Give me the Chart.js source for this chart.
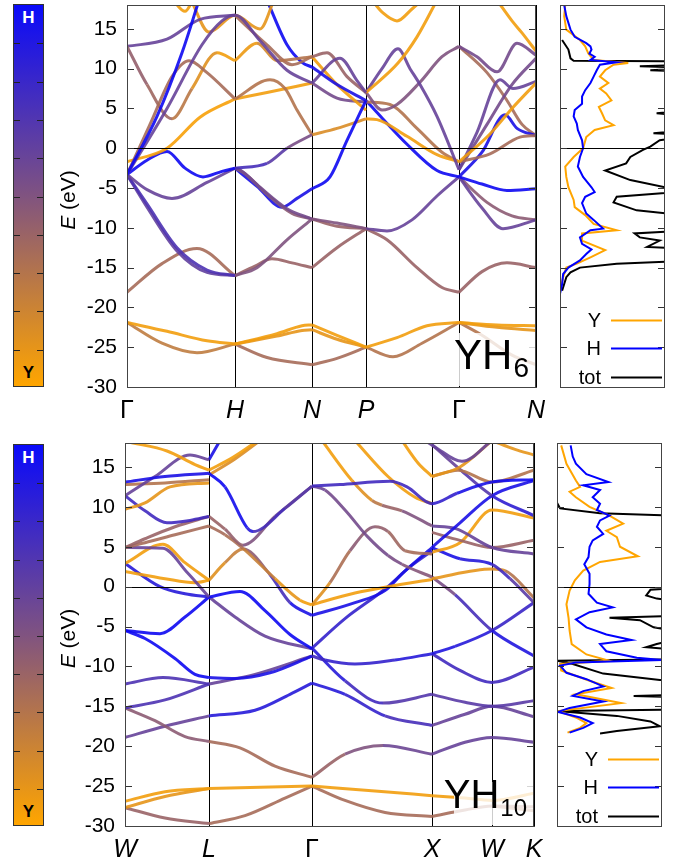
<!DOCTYPE html>
<html>
<head>
<meta charset="utf-8">
<script src="https://cdn.jsdelivr.net/npm/chart.js@4.4.1/dist/chart.umd.min.js"></script>
<style>
  body { margin: 0; background: #fff; width: 679px; height: 863px; position: relative; overflow: hidden; font-family: "Liberation Sans", Arial, sans-serif; }
  canvas { position: absolute; }
  .cbar { position: absolute; left: 13px; width: 31px; border: 1px solid #333; box-sizing: border-box;
          background: linear-gradient(to bottom, rgb(10,10,250), rgb(128,83,128), rgb(255,165,0)); }
  .cbar span { position: absolute; left: 0; width: 100%; text-align: center; font-weight: bold; font-size: 17px; }
  .tk { position: absolute; height: 1px; width: 6px; background: #222; }
</style>
</head>
<body>
<div class="cbar" id="cb1" style="top:4px;height:383px"><span style="top:3px;color:#fff">H</span><span style="bottom:3px;color:#000">Y</span></div>
<div class="cbar" id="cb2" style="top:444px;height:382px"><span style="top:3px;color:#fff">H</span><span style="bottom:3px;color:#000">Y</span></div>
<canvas id="bandTop" width="545" height="430" style="left:0;top:0"></canvas>
<canvas id="dosTop" width="129" height="430" style="left:550px;top:0"></canvas>
<canvas id="bandBot" width="543" height="423" style="left:0;top:440px"></canvas>
<canvas id="dosBot" width="129" height="423" style="left:550px;top:440px"></canvas>
<script>
// k-path (path length) and labels
var nodesTop = [0, 108, 185, 239, 332, 409];
var labelsTop = ["Γ", "H", "N", "P", "Γ", "N"];
var nodesBot = [0, 84, 187, 307, 367, 409];
var labelsBot = ["W", "L", "Γ", "X", "W", "K"];
var yTicks = [-30, -25, -20, -15, -10, -5, 0, 5, 10, 15];

// bands: h = H character (0 = Y, 1 = H), points [k, E, h?]
var bandsTop = [
  {h: 0.95, p: [[0,-3.3],[30,4],[55,12],[72,18.6]]},
  {h: 0.6, p: [[0,-3.3],[40,5],[75,13],[95,16],[108,16.7],[133,13.5],[160,9.8],[185,8.2]]},
  {h: 0.35, p: [[0,-3.3],[23,3],[45,9],[62,11],[80,9.5],[108,6.2]]},
  {h: 0.4, p: [[0,12.8,0.45],[20,8,0.4],[45,3.7,0.35],[65,7.5,0.2],[90,12,0.05],[108,11,0.05]]},
  {h: 0.03, p: [[0,-1.7],[40,0],[73,3.9],[108,6.2]]},
  {h: 0.6, p: [[0,12.8],[40,13.7],[73,16.2],[108,16.7]]},
  {h: 0.05, p: [[46,18.6],[58,17.2],[66,18.6]]},
  {h: 0.1, p: [[64,18.6],[82,14.6],[108,16.7],[133,15],[147,18.6]]},
  {h: 0.95, p: [[0,-3.3],[20,-1.5],[40,-0.4],[58,-2.5],[76,-3.6],[95,-2.9],[108,-2.5]]},
  {h: 0.6, p: [[0,-3.3],[20,-5.2],[45,-6.3],[80,-4.3],[108,-2.5]]},
  {h: 0.7, p: [[0,-3.3],[20,-7],[50,-12.5],[80,-15.3],[108,-16]]},
  {h: 0.62, p: [[0,-3.3],[20,-7.4],[50,-12.9],[80,-15.6],[108,-16]]},
  {h: 0.35, p: [[0,-18.1],[35,-14.5],[70,-12.6],[108,-16]]},
  {h: 0.05, p: [[0,-21.9],[40,-23],[80,-24.2],[108,-24.6]]},
  {h: 0.25, p: [[0,-21.9],[35,-24.5],[70,-25.7],[108,-24.6]]},
  {h: 0.5, p: [[108,-16],[130,-15],[160,-11.5],[185,-8.9]]},
  {h: 0.4, p: [[108,-16],[128,-14.8],[145,-13.9],[165,-14.4],[185,-15]]},
  {h: 0.05, p: [[108,-24.6],[150,-23.3],[175,-22.3],[185,-22.2]]},
  {h: 0.1, p: [[108,-24.6],[150,-23.6],[175,-22.9],[185,-22.8]]},
  {h: 0.35, p: [[108,-24.6],[140,-26.3],[185,-27.2]]},
  {h: 0.7, p: [[108,-2.5,0.75],[140,-1.9,0.7],[160,0,0.6],[185,1.7,0.45]]},
  {h: 0.55, p: [[108,-2.5],[113,-2.7],[133,-4.9],[160,-7.6],[185,-8.9]]},
  {h: 0.45, p: [[108,-2.5],[118,-3.2],[140,-5.8],[165,-8.2],[185,-8.9]]},
  {h: 0.9, p: [[108,-2.5],[130,-4.8],[155,-7.4],[170,-6.3],[185,-5.1]]},
  {h: 0.3, p: [[108,6.2],[143,8.6],[158,7.5],[170,4.8],[185,1.7]]},
  {h: 0.05, p: [[108,6.2],[140,7],[185,8.2]]},
  {h: 0.1, p: [[108,11,0.05],[130,13.2,0.1],[150,11,0.25],[185,11.5,0.35]]},
  {h: 0.35, p: [[108,16.7],[140,13],[165,10.5],[185,11.5]]},
  {h: 0.95, p: [[140,18.6],[160,13],[175,10.8],[185,10.2]]},
  {h: 0.9, p: [[185,10.2],[210,8],[239,6]]},
  {h: 0.95, p: [[185,-5.1],[203,-3.6],[220,1],[239,6]]},
  {h: 0.15, p: [[185,1.7],[210,2.5],[239,3.7]]},
  {h: 0.6, p: [[185,8.2],[213,11.3],[230,8.5],[239,7]]},
  {h: 0.4, p: [[185,11.5],[200,12],[220,9],[239,7]]},
  {h: 0.05, p: [[185,11.5],[210,8],[239,4.8]]},
  {h: 0.55, p: [[185,8.2],[210,6.3],[239,5.8]]},
  {h: 0.5, p: [[185,-8.9],[210,-9.4],[239,-10.1]]},
  {h: 0.4, p: [[185,-8.9],[210,-9.8],[239,-10.1]]},
  {h: 0.4, p: [[185,-15],[210,-12.5],[239,-10.1]]},
  {h: 0.05, p: [[185,-22.2],[210,-23.5],[239,-25]]},
  {h: 0.1, p: [[185,-22.8],[210,-24],[239,-25]]},
  {h: 0.35, p: [[185,-27.2],[210,-26.4],[239,-25]]},
  {h: 0.05, p: [[239,7],[271,10.7],[290,14],[310,18.6]]},
  {h: 0.6, p: [[239,7],[255,10],[271,12.5],[283,10],[293,8],[310,4],[332,-2.7]]},
  {h: 0.5, p: [[239,7],[255,4.8],[270,5.5],[293,8.3],[315,11.5],[332,12.8]]},
  {h: 0.05, p: [[239,3.7],[250,3.6],[280,1.5],[310,-0.8],[332,-1.7]]},
  {h: 0.3, p: [[239,5.8],[263,5.5],[290,2.5],[315,-0.5],[332,-1.7]]},
  {h: 0.95, p: [[239,6],[255,3.8],[280,0.5],[310,-2.8],[332,-3.6]]},
  {h: 0.05, p: [[245,18.6],[256,17],[270,16],[285,17.5],[295,18.6]]},
  {h: 0.6, p: [[239,-10.1],[260,-10.4],[285,-9],[310,-6],[332,-3.6]]},
  {h: 0.4, p: [[239,-10.1],[260,-11.5],[290,-15],[315,-17.5],[332,-18.1]]},
  {h: 0.05, p: [[239,-25],[270,-23.8],[300,-22.3],[332,-21.9]]},
  {h: 0.3, p: [[239,-25],[266,-26.2],[295,-24.5],[332,-21.9]]},
  {h: 0.05, p: [[332,-1.7],[363,1.8],[385,5],[409,8.2]]},
  {h: 0.35, p: [[332,-1.7],[363,-0.7],[393,1.4],[409,1.6]]},
  {h: 0.6, p: [[332,-2.7],[350,2],[373,8.6],[386,7.5],[409,8.4]]},
  {h: 0.55, p: [[332,-2.7],[360,3],[385,8],[409,11.3]]},
  {h: 0.9, p: [[332,-3.6],[355,-0.5],[378,4.2],[390,2.5],[409,1.6]]},
  {h: 0.55, p: [[332,12.8],[350,11.5],[370,9.6],[390,13.2],[409,11.7]]},
  {h: 0.35, p: [[332,12.8],[360,9.5],[380,6],[395,3],[409,1.6]]},
  {h: 0.05, p: [[370,18.6],[385,16],[395,14.5],[409,12.2]]},
  {h: 0.95, p: [[332,-3.6],[355,-4.5],[380,-5.3],[409,-5.1]]},
  {h: 0.6, p: [[332,-3.6],[355,-7.5],[376,-10.1],[409,-9]]},
  {h: 0.45, p: [[332,-3.6],[360,-6.8],[385,-8.5],[409,-9]]},
  {h: 0.4, p: [[332,-18.1],[355,-15.5],[380,-14.4],[409,-15]]},
  {h: 0.05, p: [[332,-21.9],[370,-22.2],[409,-22.3]]},
  {h: 0.1, p: [[332,-21.9],[370,-22.5],[409,-22.9]]},
  {h: 0.3, p: [[332,-21.9],[355,-23.5],[385,-26],[409,-27.2]]}
];

var bandsBot = [
  {h: 0.05, p: [[0,18.2],[8,18],[42,17],[70,15.3],[84,14.6]]},
  {h: 0.9, p: [[0,13.1],[40,13.8],[84,14.2]]},
  {h: 0.6, p: [[0,11.4],[30,13.8],[65,16.5],[84,15.9]]},
  {h: 0.1, p: [[0,9.7],[20,10.5],[45,12.5],[84,13]]},
  {h: 0.3, p: [[0,12.8],[40,13],[84,13.4]]},
  {h: 0.75, p: [[0,11.4],[20,9.5],[42,8],[65,8.3],[84,8.8]]},
  {h: 0.4, p: [[0,4.9],[20,6],[50,7.5],[84,8.8]]},
  {h: 0.35, p: [[0,4.9],[20,5.5],[50,6.5],[84,7.6]]},
  {h: 0.6, p: [[0,4.9],[38,4.8],[62,1.8],[84,-1.3]]},
  {h: 0.05, p: [[0,2.9],[38,5.3],[60,3],[84,0.8]]},
  {h: 0.05, p: [[0,1.9],[40,1],[70,0.5],[84,0.8]]},
  {h: 0.85, p: [[0,2.9],[35,0],[60,-0.9],[84,-1.3]]},
  {h: 0.95, p: [[0,-5.5],[35,-5.9],[60,-3.8],[84,-1.3]]},
  {h: 0.95, p: [[0,-5.5],[20,-6.5],[50,-9],[70,-11],[84,-11.4]]},
  {h: 0.7, p: [[0,-12.2],[38,-11.4],[84,-12.2]]},
  {h: 0.7, p: [[0,-15.2],[40,-14.2],[84,-12.2]]},
  {h: 0.45, p: [[0,-15.2],[30,-16.8],[60,-18.8],[84,-19.4]]},
  {h: 0.6, p: [[0,-18.9],[40,-17.5],[84,-16.2]]},
  {h: 0.05, p: [[0,-26.9],[40,-25.7],[84,-25.3]]},
  {h: 0.1, p: [[0,-27.7],[40,-26.3],[84,-25.3]]},
  {h: 0.4, p: [[0,-27.7],[40,-29],[84,-29.7]]},
  {h: 0.9, p: [[84,14.2,0.95],[100,12.5,0.95],[122,7.4,0.9],[128,6.9,0.8],[160,9.8,0.65],[187,12.6,0.65]]},
  {h: 0.4, p: [[84,8.8,0.4],[100,7.2,0.4],[118,5.2,0.45],[150,8.8,0.55],[187,12.6,0.6]]},
  {h: 0.3, p: [[84,7.6,0.35],[100,6.5,0.35],[118,4.8,0.3],[150,1,0.15],[175,-1.7,0.05],[187,-2.3,0.05]]},
  {h: 0.5, p: [[84,0.8,0.1],[100,3,0.15],[118,4.7,0.3],[145,1.5,0.6],[165,-2,0.85],[187,-3.6,0.95]]},
  {h: 0.95, p: [[84,-1.3],[115,-0.6],[140,-3],[165,-6],[187,-7.8]]},
  {h: 0.6, p: [[84,-1.3],[110,-3.8],[140,-6.2],[187,-7.8]]},
  {h: 0.05, p: [[84,14.6],[108,16.2],[133,18.3]]},
  {h: 0.15, p: [[84,14],[110,16],[135,18.3]]},
  {h: 0.9, p: [[84,15.9],[95,18.3]]},
  {h: 0.9, p: [[84,-11.4],[110,-11.5],[145,-10.8],[187,-8.7]]},
  {h: 0.6, p: [[84,-12.2],[130,-11],[187,-8.7]]},
  {h: 0.85, p: [[84,-16.2],[130,-15.5],[165,-13.5],[187,-12.1]]},
  {h: 0.35, p: [[84,-19.4],[115,-20.2],[150,-22.5],[187,-23.9]]},
  {h: 0.05, p: [[84,-25.3],[187,-25]]},
  {h: 0.35, p: [[84,-29.7],[120,-28.7],[160,-26.5],[187,-25]]},
  {h: 0.75, p: [[187,12.6],[215,12.8],[265,13.2],[282,12.5],[307,10.4],[332,11.7,0.85],[367,13.1,0.95],[409,13.4,0.95]]},
  {h: 0.55, p: [[187,12.6,0.6],[200,12.1],[220,9.6],[243,6.2],[263,3.9],[277,2.8,0.5],[307,1.2,0.45]]},
  {h: 0.05, p: [[197,18.3,0.05],[227,13.3,0.05],[247,10.8,0.2],[257,10.2,0.35],[277,9.5,0.45],[307,7.6,0.55]]},
  {h: 0.05, p: [[230,18.3],[263,13.8],[290,11.2],[307,10.4]]},
  {h: 0.05, p: [[277,18.3],[293,15.5],[307,13.8]]},
  {h: 0.2, p: [[187,-2.3,0.05],[205,0.5,0.2],[225,4.5,0.45],[250,7.5,0.45],[263,6.9,0.4],[280,4.5,0.35],[307,4.1,0.35]]},
  {h: 0.05, p: [[187,-2.3],[200,-1.8],[230,-0.8],[263,0],[307,0.9]]},
  {h: 0.9, p: [[187,-3.6],[230,-2],[260,-0.5],[277,1.6],[307,4.9]]},
  {h: 0.8, p: [[187,-7.7],[220,-4],[260,-0.3],[285,2.5],[307,4.5]]},
  {h: 0.8, p: [[187,-8.7,0.7],[200,-9.2],[230,-9.7],[270,-9.2],[307,-8.4,0.9]]},
  {h: 0.8, p: [[187,-7.7,0.9],[220,-11.8],[258,-14.6,0.7],[307,-13.5,0.65]]},
  {h: 0.8, p: [[187,-12.1,0.9],[220,-13.5],[260,-16.2],[307,-17.4,0.65]]},
  {h: 0.45, p: [[187,-23.9,0.35],[220,-21,0.45],[258,-19.9,0.55],[307,-21,0.6]]},
  {h: 0.05, p: [[187,-25],[250,-25.6],[307,-26.2]]},
  {h: 0.35, p: [[187,-25],[220,-26.8],[260,-28.3],[307,-28.8]]},
  {h: 0.6, p: [[300,18.3],[310,17.5],[337,15.7],[367,18.3]]},
  {h: 0.1, p: [[307,13.8],[335,15],[367,18.3]]},
  {h: 0.1, p: [[367,18.3],[390,17.2],[409,16.5]]},
  {h: 0.3, p: [[307,13.8],[333,14.6],[367,13.1],[409,14.6]]},
  {h: 0.7, p: [[307,17.8,0.6],[333,14.9,0.6],[367,11.4,0.75],[409,8.9,0.9]]},
  {h: 0.9, p: [[307,4.9],[335,8],[367,11.4],[409,13.3]]},
  {h: 0.6, p: [[307,7.6],[330,7.3],[367,4.9],[409,4.1]]},
  {h: 0.4, p: [[307,6.8],[335,5.8],[367,4.9],[409,5.8]]},
  {h: 0.05, p: [[307,4.3],[335,5.5],[367,9.6],[409,8.6]]},
  {h: 0.8, p: [[307,4.9,0.9],[335,3.5,0.9],[367,2.8,0.8],[385,1,0.7],[409,-2,0.6]]},
  {h: 0.2, p: [[307,1.0,0.1],[367,2.2,0.1],[380,2,0.2],[409,-1.4,0.4]]},
  {h: 0.7, p: [[307,1.2,0.45],[330,-1,0.6],[367,-5.5,0.85],[409,-8.7,0.9]]},
  {h: 0.85, p: [[307,-8.4,0.9],[330,-7.5],[367,-5.5],[409,-2,0.7]]},
  {h: 0.75, p: [[307,-8.4],[335,-10.5],[367,-12],[409,-10.1]]},
  {h: 0.65, p: [[307,-13.5],[340,-14.5],[367,-15],[409,-14.3]]},
  {h: 0.6, p: [[307,-17.4],[340,-16],[367,-15],[409,-16.3]]},
  {h: 0.6, p: [[307,-21],[340,-19.5],[367,-18.9],[409,-19.5]]},
  {h: 0.05, p: [[307,-26.2],[340,-26.5],[367,-26.8],[409,-25.9]]},
  {h: 0.35, p: [[307,-28.8],[340,-28],[367,-27.5],[409,-27.6]]},
  {h: 0.3, p: [[367,-27.5],[409,-28.1]]}
];

// DOS, pairs [E, value]
var dosTopY = [[18,0.05],[16.6,0.04],[14.9,0.06],[13.6,0.19],[12.8,0.24],[11.9,0.27],[11.1,0.32],[10.7,0.65],[10.5,0.51],[9.8,0.43],[9,0.38],[8.2,0.46],[7.5,0.38],[6.9,0.44],[6,0.49],[5.2,0.37],[4.4,0.4],[3.5,0.43],[2.9,0.51],[2.3,0.33],[1.4,0.25],[0,0.22],[-1.1,0.13],[-2.3,0.05],[-3.6,0.06],[-4.9,0.08],[-6.5,0.13],[-7.4,0.14],[-8.4,0.24],[-9.5,0.32],[-10.3,0.54],[-10.7,0.21],[-11.6,0.21],[-12.8,0.43],[-13.7,0.29],[-14.5,0.16],[-15,0.06],[-16.2,0.03],[-17.9,0]];
var dosTopH = [[18,0.04],[16.6,0.06],[14.9,0.1],[14,0.14],[13.2,0.25],[12.8,0.29],[12.4,0.3],[11.9,0.28],[11.5,0.33],[11.1,0.29],[10.8,0.54],[10.5,0.38],[9.8,0.35],[9,0.32],[8.2,0.29],[7.3,0.24],[6.5,0.21],[5.6,0.21],[4.8,0.14],[4,0.13],[3.1,0.16],[2.3,0.17],[1,0.21],[0,0.22],[-1.1,0.19],[-2.3,0.17],[-3.6,0.22],[-4.9,0.3],[-5.5,0.33],[-6.1,0.24],[-6.9,0.21],[-8.2,0.25],[-9,0.32],[-10.1,0.41],[-10.3,0.29],[-11.2,0.19],[-12,0.21],[-12.7,0.3],[-13.3,0.25],[-14.1,0.19],[-15,0.08],[-15.8,0.03],[-17.1,0.02],[-18.3,0]];
var dosTopTot = [[13.6,0.02],[12.4,0.08],[11.3,0.1],[11,0.13],[10.9,1.3],[10.5,1.3],[10.3,0.76],[10.1,1.3],[9.8,0.86],[9.6,1.3],[4.8,1.3],[4.4,0.92],[4,1.3],[2.3,1.3],[1.9,0.89],[1.6,1.3],[1,0.95],[0.2,0.86],[-0.2,0.79],[-1.1,0.67],[-1.9,0.63],[-2.8,0.43],[-4,0.67],[-4.9,1],[-5.3,1.3],[-6.1,0.54],[-6.8,0.51],[-7.8,0.73],[-8.6,1.3],[-10.3,1.3],[-10.7,0.71],[-11.2,0.76],[-11.6,0.95],[-12.4,0.83],[-12.7,1.3],[-14.1,1.3],[-14.5,0.54],[-15,0.19],[-15.6,0.1],[-16.2,0.06],[-17.9,0.02]];

var dosBotY = [[17.7,0.04],[15.4,0.09],[13.3,0.18],[12.5,0.22],[11.9,0.12],[11.2,0.18],[10,0.31],[8.9,0.5],[7.9,0.63],[7,0.47],[6.2,0.57],[5,0.6],[3.8,0.77],[3.1,0.41],[2,0.25],[0.8,0.17],[-0.5,0.12],[-2.2,0.09],[-3.9,0.11],[-5.5,0.12],[-7.2,0.14],[-8.5,0.28],[-9.3,0.5],[-9.7,0.03],[-10.5,0.04],[-11.8,0.31],[-12.7,0.52],[-13.5,0.18],[-14.6,0.61],[-15.6,0.01],[-16.4,0.18],[-17.1,0.28],[-17.7,0.22],[-18.3,0.1]];
var dosBotH = [[17.7,0.13],[16.3,0.15],[15.4,0.18],[14.1,0.28],[13.1,0.49],[12.7,0.25],[12.1,0.41],[11.2,0.34],[10.4,0.41],[9.6,0.38],[8.9,0.5],[8.3,0.41],[7.5,0.38],[6.6,0.44],[5.8,0.34],[5,0.31],[3.7,0.3],[2.8,0.26],[1.6,0.31],[0.3,0.31],[-0.9,0.3],[-2,0.38],[-2.6,0.53],[-3.2,0.31],[-4.1,0.18],[-5.1,0.28],[-6,0.47],[-6.7,0.71],[-7.2,0.41],[-8.1,0.47],[-8.9,0.76],[-9.2,1],[-9.5,0.18],[-9.9,0.03],[-10.8,0.09],[-11.6,0.28],[-12.5,0.44],[-13.1,0.25],[-13.7,0.15],[-14.4,0.44],[-15.2,0.12],[-15.7,0.01],[-16.4,0.22],[-17.1,0.34],[-17.7,0.25],[-18.3,0.12]];
var dosBotTot = [[17.7,0],[10.5,0],[9.8,0.03],[9.2,0.41],[8.8,1.3],[0,1.3],[-0.4,0.89],[-1.1,0.85],[-1.5,0.95],[-2,1.3],[-3.6,1.3],[-3.9,0.5],[-4.2,0.79],[-5.1,0.92],[-6,1.3],[-7.2,0.95],[-7.6,0.85],[-8.1,1.3],[-9.1,1.3],[-9.3,0],[-9.7,0.15],[-10.9,0.44],[-11.7,0.98],[-11.9,1.3],[-13.5,1.3],[-13.7,0.73],[-13.9,1.3],[-15.4,1.3],[-15.6,0],[-16.2,0.57],[-16.9,0.89],[-17.5,0.98],[-18.1,0.57],[-18.4,0.41]];

var FONT = "'Liberation Sans', Arial, sans-serif";

function mix(h) {
  var r = Math.round(255 * (1 - h)), g = Math.round(165 * (1 - h)), b = Math.round(255 * h);
  return "rgba(" + r + "," + g + "," + b + ",0.9)";
}

// colorbar ticks
["cb1", "cb2"].forEach(function (id) {
  var el = document.getElementById(id);
  var hgt = el.offsetHeight;
  for (var i = 1; i < 10; i++) {
    var y = Math.round(i * hgt / 10);
    ["left:0", "right:0"].forEach(function (side) {
      var t = document.createElement("div");
      t.className = "tk";
      t.setAttribute("style", side + ";top:" + y + "px");
      el.appendChild(t);
    });
  }
});

function framePlugin() {
  return {
    id: "frame",
    afterDatasetsDraw: function (chart) {
      var a = chart.chartArea, ctx = chart.ctx, ys = chart.scales.y;
      ctx.save();
      ctx.strokeStyle = "#000";
      ctx.lineWidth = 1;
      var y0 = Math.round(ys.getPixelForValue(0)) + 0.5;
      ctx.beginPath(); ctx.moveTo(a.left, y0); ctx.lineTo(a.right, y0); ctx.stroke();
      ctx.strokeStyle = "#333";
      yTicks.forEach(function (v) {
        var y = Math.round(ys.getPixelForValue(v)) + 0.5;
        ctx.beginPath();
        ctx.moveTo(a.left, y); ctx.lineTo(a.left + 7, y);
        ctx.moveTo(a.right, y); ctx.lineTo(a.right - 7, y);
        ctx.stroke();
      });
      ctx.strokeStyle = "#444";
      ctx.strokeRect(Math.round(a.left) + 0.5, Math.round(a.top) + 0.5, Math.round(a.right - a.left) - 1, Math.round(a.bottom - a.top));
      ctx.restore();
    }
  };
}

function titlePlugin(formula, sub, big, small, boxTop) {
  return {
    id: "title",
    afterDraw: function (chart) {
      var a = chart.chartArea, ctx = chart.ctx;
      ctx.save();
      // y axis title
      ctx.translate(69, (a.top + a.bottom) / 2 + 4);
      ctx.rotate(-Math.PI / 2);
      ctx.fillStyle = "#000";
      ctx.textBaseline = "middle";
      ctx.font = "italic 21px " + FONT;
      var w1 = ctx.measureText("E").width;
      ctx.font = "21px " + FONT;
      var w2 = ctx.measureText(" (eV)").width;
      var x0 = -(w1 + w2) / 2;
      ctx.font = "italic 21px " + FONT;
      ctx.fillText("E", x0, 0);
      ctx.font = "21px " + FONT;
      ctx.fillText(" (eV)", x0 + w1, 0);
      ctx.restore();

      // compound label
      ctx.save();
      ctx.fillStyle = "rgba(255,255,255,0.8)";
      ctx.fillRect(a.right - 80, a.bottom - boxTop, 79, boxTop - 1);
      ctx.fillStyle = "#000";
      ctx.textBaseline = "alphabetic";
      ctx.font = big + "px " + FONT;
      var wf = ctx.measureText(formula).width;
      ctx.font = small + "px " + FONT;
      var ws = ctx.measureText(sub).width;
      var x = a.right - 8 - wf - ws;
      ctx.font = big + "px " + FONT;
      ctx.fillText(formula, x, a.bottom - 18);
      ctx.font = small + "px " + FONT;
      ctx.fillText(sub, x + wf + 1, a.bottom - 10);
      ctx.restore();
    }
  };
}

function bandChart(id, bands, nodes, labels, yAxisW, xAxisH, padTop, padRight, formula, sub, big, small, boxTop) {
  var datasets = bands.map(function (b) {
    var d = b.p.map(function (q) { return {x: q[0], y: q[1], h: q.length > 2 ? q[2] : b.h}; });
    return {
      data: d,
      showLine: true,
      pointRadius: 0,
      borderWidth: 3,
      borderColor: mix(b.h),
      cubicInterpolationMode: "monotone",
      clip: 0,
      segment: {
        borderColor: function (c) { return mix((d[c.p0DataIndex].h + d[c.p1DataIndex].h) / 2); }
      }
    };
  });
  return new Chart(document.getElementById(id), {
    type: "scatter",
    data: {datasets: datasets},
    options: {
      responsive: false,
      animation: false,
      devicePixelRatio: 1,
      layout: {padding: {top: padTop, right: padRight, left: 0, bottom: 0}},
      plugins: {legend: {display: false}, tooltip: {enabled: false}},
      scales: {
        x: {
          type: "linear",
          min: 0,
          max: nodes[nodes.length - 1],
          afterBuildTicks: function (s) { s.ticks = nodes.map(function (v) { return {value: v}; }); },
          afterFit: function (s) { s.height = xAxisH; s.paddingLeft = 0; s.paddingRight = 0; },
          grid: {color: "#000", lineWidth: 1, drawTicks: false},
          border: {color: "#444"},
          ticks: {
            autoSkip: false,
            maxRotation: 0,
            padding: 9,
            color: "#000",
            callback: function (v, i) { return labels[i]; },
            font: function (c) { return {family: FONT, size: 25, style: labels[c.index] === "Γ" ? "normal" : "italic"}; }
          }
        },
        y: {
          min: -30,
          max: 18,
          afterBuildTicks: function (s) { s.ticks = yTicks.map(function (v) { return {value: v}; }); },
          afterFit: function (s) { s.width = yAxisW; s.paddingTop = 0; s.paddingBottom = 0; },
          grid: {display: false, drawTicks: false},
          border: {color: "#444"},
          ticks: {padding: 10, color: "#000", font: {family: FONT, size: 21}}
        }
      }
    },
    plugins: [framePlugin(), titlePlugin(formula, sub, big, small, boxTop)]
  });
}

function legendPlugin() {
  return {
    id: "dosLegend",
    afterDraw: function (chart) {
      var a = chart.chartArea, ctx = chart.ctx;
      var items = [["Y", "#FFA500", 67], ["H", "#0000FF", 39], ["tot", "#000000", 10]];
      ctx.save();
      ctx.font = "20px " + FONT;
      ctx.textAlign = "right";
      ctx.textBaseline = "middle";
      items.forEach(function (it) {
        var y = Math.round(a.bottom - it[2]) + 0.5;
        ctx.fillStyle = "#000";
        ctx.fillText(it[0], a.left + 41, y + 1);
        ctx.strokeStyle = it[1];
        ctx.lineWidth = 2;
        ctx.beginPath(); ctx.moveTo(a.left + 51, y); ctx.lineTo(a.left + 102, y); ctx.stroke();
      });
      ctx.restore();
    }
  };
}

function dosChart(id, ySer, hSer, tSer, pad) {
  function pts(s) { return s.map(function (q) { return {x: q[1], y: q[0]}; }); }
  function ds(s, col) { return {data: pts(s), showLine: true, pointRadius: 0, borderWidth: 2, borderColor: col, tension: 0, clip: 0}; }
  return new Chart(document.getElementById(id), {
    type: "scatter",
    data: {datasets: [ds(hSer, "#0000FF"), ds(ySer, "#FFA500"), ds(tSer, "#000000")]},
    options: {
      responsive: false,
      animation: false,
      devicePixelRatio: 1,
      layout: {padding: pad},
      plugins: {legend: {display: false}, tooltip: {enabled: false}},
      scales: {
        x: {type: "linear", min: 0, max: 1, display: false},
        y: {min: -30, max: 18, display: false}
      }
    },
    plugins: [framePlugin(), legendPlugin()]
  });
}

bandChart("bandTop", bandsTop, nodesTop, labelsTop, 127, 43, 5, 9, "YH", "6", 42, 28, 54);
bandChart("bandBot", bandsBot, nodesBot, labelsBot, 125, 37, 3, 9, "YH", "10", 40, 24, 44);
dosChart("dosTop", dosTopY, dosTopH, dosTopTot, {left: 10, right: 14, top: 5, bottom: 43});
dosChart("dosBot", dosBotY, dosBotH, dosBotTot, {left: 7, right: 17, top: 3, bottom: 37});
</script>
</body>
</html>
